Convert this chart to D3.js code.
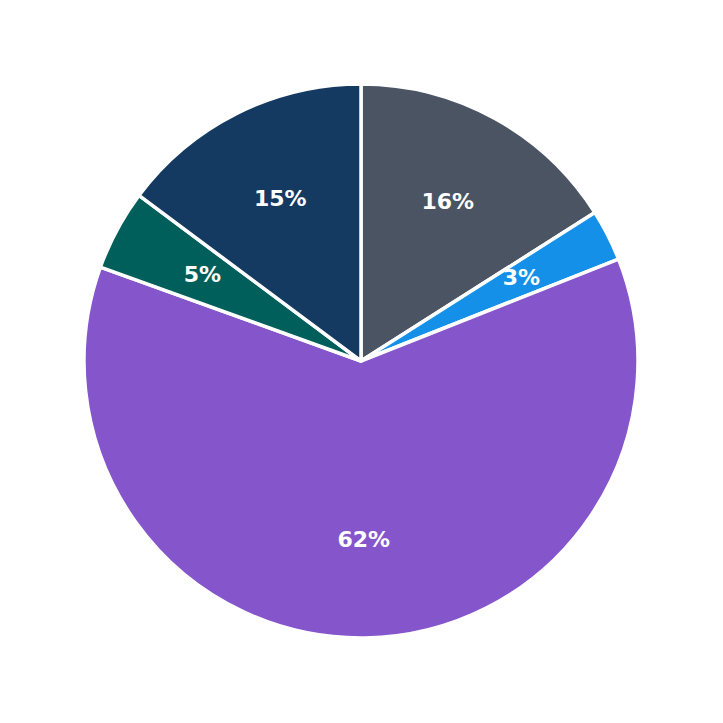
<!DOCTYPE html>
<html>
<head>
<meta charset="utf-8">
<script src="https://cdn.jsdelivr.net/npm/d3@7"></script>
<style>
  body { margin: 0; background: #fff; }
</style>
</head>
<body>
<div id="main"></div>
<script>
// slices, clockwise from 12 o'clock
const categories = ["A", "B", "C", "D", "E"];
const values = [16.0, 3.0, 61.5, 4.7, 14.8];
const labels = ["16%", "3%", "62%", "5%", "15%"];
const colors = ["#4a5462", "#1490e8", "#8555cb", "#005f5a", "#143a62"];

const width = 723, height = 723;
const radius = 277;
const cx = 361, cy = 361;

const svg = d3.select("#main").append("svg")
    .attr("width", width).attr("height", height);

const g = svg.append("g").attr("transform", "translate(" + cx + "," + cy + ")");

const pie = d3.pie().sort(null).value(function (d) { return d; });
const arcs = pie(values);

const arc = d3.arc().innerRadius(0).outerRadius(radius);
const labelArc = d3.arc().innerRadius(radius * 0.65).outerRadius(radius * 0.65);

g.selectAll("path")
    .data(arcs)
    .enter().append("path")
    .attr("d", arc)
    .attr("fill", function (d, i) { return colors[i]; })
    .attr("stroke", "#fff")
    .attr("stroke-width", 3.5)
    .attr("stroke-linejoin", "round");

g.selectAll("text")
    .data(arcs)
    .enter().append("text")
    .attr("transform", function (d) { return "translate(" + labelArc.centroid(d) + ")"; })
    .attr("text-anchor", "middle")
    .attr("dy", "0.28em")
    .attr("fill", "#fff")
    .style("font-family", "'DejaVu Sans', sans-serif")
    .style("font-weight", "bold")
    .style("font-size", "22px")
    .text(function (d, i) { return labels[i]; });
</script>
</body>
</html>
